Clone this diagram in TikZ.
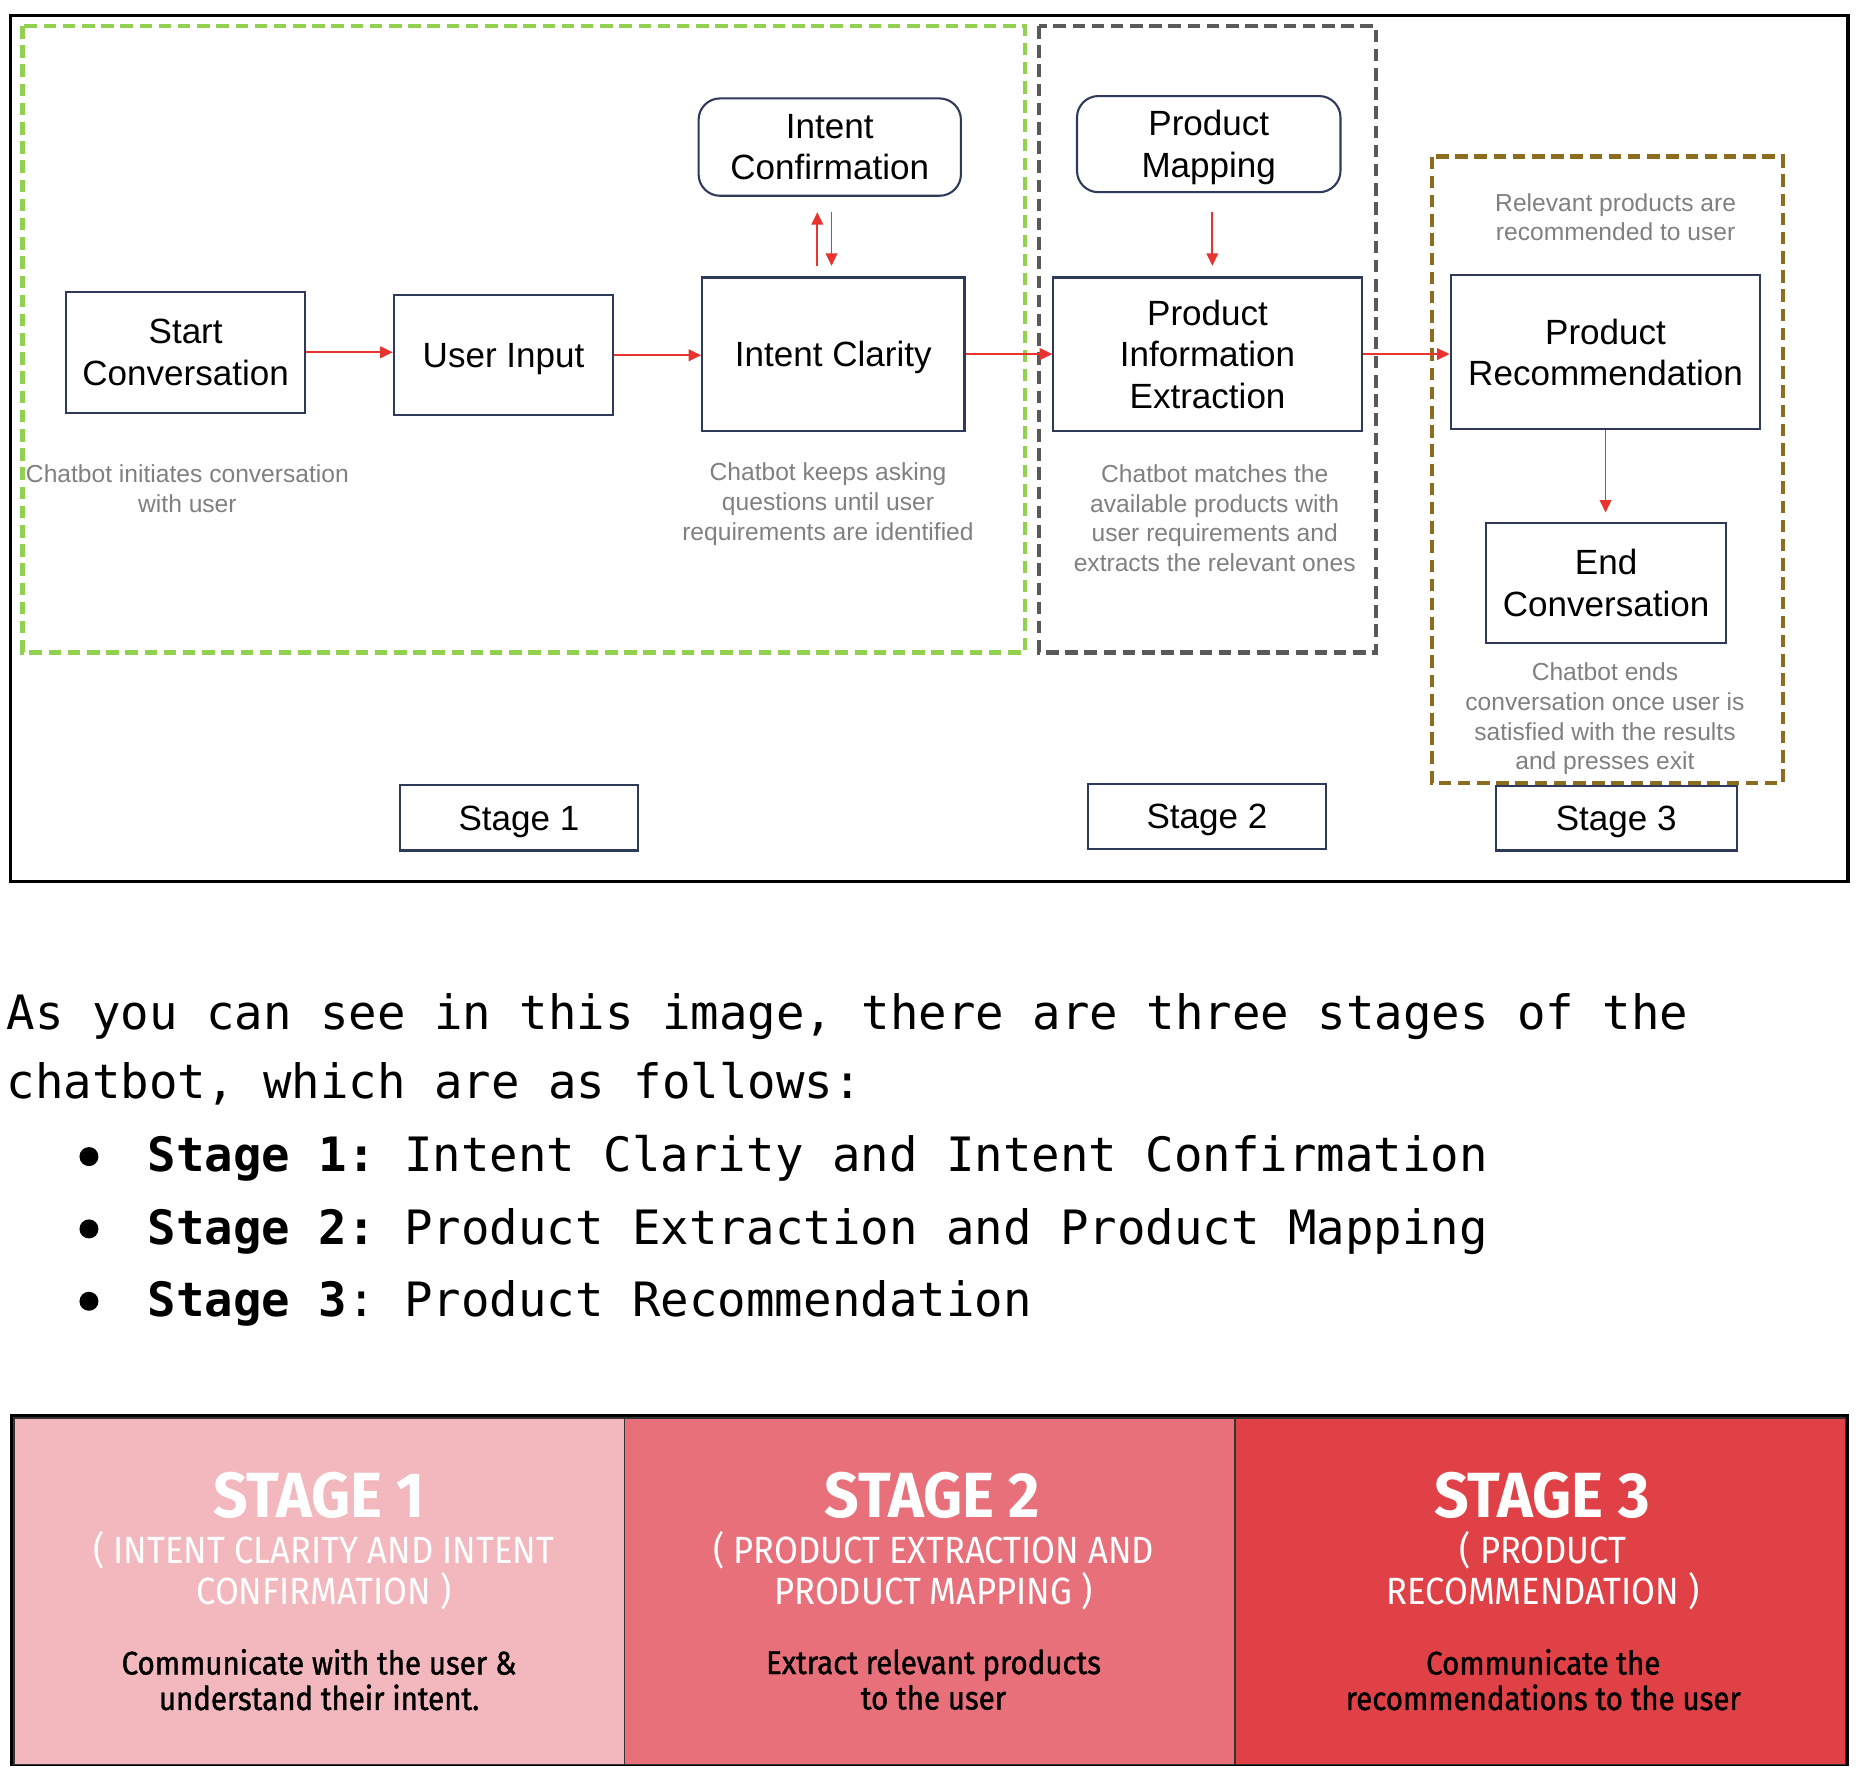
\documentclass[tikz,border=0pt]{standalone}
\usepackage{fontspec}
\setmainfont{Liberation Sans}
\newfontfamily\monofont{DejaVu Sans Mono}
\newfontfamily\stagetitlefont[FakeStretch=0.95]{Fira Sans}
\newfontfamily\stagesubfont[FakeStretch=0.91]{Fira Sans}
\newfontfamily\stagetextfont[FakeStretch=0.9,FakeBold=1.2]{Fira Sans}
\usetikzlibrary{arrows.meta}
\definecolor{boxline}{HTML}{2F3A5A}
\definecolor{flowred}{HTML}{E8332E}
\definecolor{notegray}{HTML}{808080}
\definecolor{stageonegreen}{HTML}{92D050}
\definecolor{stagetwogray}{HTML}{595959}
\definecolor{stagethreeolive}{HTML}{8C6D1F}
\definecolor{cellone}{HTML}{F2B8BE}
\definecolor{celltwo}{HTML}{E8707A}
\definecolor{cellthree}{HTML}{E04146}
\tikzset{
  flowbox/.style={draw=boxline, line width=0.5pt, align=center, inner sep=0pt, text depth=0pt,
    font=\fontsize{8.4}{10}\selectfont},
  roundbox/.style={flowbox, rounded corners=0.18cm},
  note/.style={align=center, inner sep=0pt, text=notegray, font=\fontsize{5.9}{7.1}\selectfont},
  flow/.style={draw=flowred, line width=0.4pt, -{Triangle[length=3pt,width=2.8pt]}},
  region/.style={line width=1pt, dash pattern=on 3pt off 1.6pt},
  bodyline/.style={anchor=base west, inner sep=0pt, font=\monofont\fontsize{11.35}{13}\selectfont\frenchspacing},
  dot/.style={circle, fill=black, inner sep=0pt, minimum size=0.16cm},
  stagecell/.style={draw=black!80, line width=0.4pt, inner sep=0pt, minimum height=2.92cm, minimum width=5.145cm},
  stagetitle/.style={inner sep=0pt, text=white, font=\stagetitlefont\bfseries\fontsize{15.3}{18}\selectfont},
  stagesub/.style={inner sep=0pt, text=white, align=center, font=\stagesubfont\fontsize{9.1}{9.67}\selectfont},
  stagetext/.style={inner sep=0pt, align=center, font=\stagetextfont\fontsize{7.85}{8.5}\selectfont},
}
\begin{document}
\begin{tikzpicture}[x=0.01cm, y=-0.01cm]
  \useasboundingbox (0,0) rectangle (1568,1500.6);
  \draw[line width=0.8pt] (9,13) rectangle (1558,743);
  \draw[region, draw=stageonegreen] (19,22) rectangle (864,550);
  \draw[region, draw=stagetwogray] (876,22) rectangle (1160,550);
  \draw[region, draw=stagethreeolive] (1207,132) rectangle (1503,660);

  \node[flowbox, minimum width=2.01cm, minimum height=1.02cm] (start) at (156.5,297) {Start\\Conversation};
  \node[flowbox, minimum width=1.85cm, minimum height=1.01cm] (input) at (424.5,299.5) {User Input};
  \node[flowbox, minimum width=2.21cm, minimum height=1.29cm] (clarity) at (702.5,298.5) {Intent Clarity};
  \node[roundbox, minimum width=2.21cm, minimum height=0.82cm] (confirm) at (699.5,124) {Intent\\Confirmation};
  \node[roundbox, minimum width=2.22cm, minimum height=0.81cm] (mapping) at (1019,121.5) {Product\\Mapping};
  \node[flowbox, minimum width=2.60cm, minimum height=1.29cm] (extract) at (1018,298.5) {Product\\Information\\Extraction};
  \node[flowbox, minimum width=2.61cm, minimum height=1.30cm] (recommend) at (1353.5,297) {Product\\Recommendation};
  \node[flowbox, minimum width=2.02cm, minimum height=1.01cm] (finish) at (1354,491.5) {End\\Conversation};
  \node[flowbox, minimum width=2.01cm, minimum height=0.55cm] (stageone) at (437.5,689.5) {Stage 1};
  \node[flowbox, minimum width=2.01cm, minimum height=0.55cm] (stagetwo) at (1017.5,688.5) {Stage 2};
  \node[flowbox, minimum width=2.03cm, minimum height=0.54cm] (stagethree) at (1362.5,690) {Stage 3};

  \node[note] (startnote) at (158,412) {Chatbot initiates conversation\\with user};
  \node[note] (claritynote) at (698,425) {Chatbot keeps asking\\questions until user\\requirements are identified};
  \node[note] (extractnote) at (1024,437) {Chatbot matches the\\available products with\\user requirements and\\extracts the relevant ones};
  \node[note] (recommendnote) at (1362,183) {Relevant products are\\recommended to user};
  \node[note] (finishnote) at (1353,606) {Chatbot ends\\conversation once user is\\satisfied with the results\\and presses exit};

  \draw[flow] (start.east) -- (start.east -| input.west);
  \draw[flow] (input.east) -- (input.east -| clarity.west);
  \draw[flow] (clarity.east) -- (clarity.east -| extract.west);
  \draw[flow] (extract.east) -- (extract.east -| recommend.west);
  \draw[flow, shorten <=0.09cm, shorten >=0.13cm] ([xshift=-0.135cm]clarity.north) -- ([xshift=-0.135cm]clarity.north |- confirm.south);
  \draw[flow, shorten <=0.13cm, shorten >=0.09cm] ([xshift=-0.015cm]clarity.north |- confirm.south) -- ([xshift=-0.015cm]clarity.north);
  \draw[flow, shorten <=0.16cm, shorten >=0.09cm] ([xshift=0.03cm]mapping.south) -- ([xshift=0.03cm]mapping.south |- extract.north);
  \draw[flow, shorten >=0.08cm] (recommend.south) -- (recommend.south |- finish.north);

  \node[bodyline] (lineone) at (5,868) {As you can see in this image, there are three stages of the};
  \node[bodyline] (linetwo) at (5,926) {chatbot, which are as follows:};
  \node[dot] (dotone) at (75,975) {};
  \node[dot] (dottwo) at (75,1036) {};
  \node[dot] (dotthree) at (75,1097) {};
  \node[bodyline] (itemone) at (124,988) {\bfseries Stage 1:\mdseries{} Intent Clarity and Intent Confirmation};
  \node[bodyline] (itemtwo) at (124,1049) {\bfseries Stage 2:\mdseries{} Product Extraction and Product Mapping};
  \node[bodyline] (itemthree) at (124,1110) {\bfseries Stage 3\mdseries: Product Recommendation};

  \draw[line width=0.8pt] (9.5,1193.5) rectangle (1557.5,1487);
  \draw[line width=0.3pt, draw=black!45] (11.5,1196) rectangle (1555.5,1485);
  \node[stagecell, fill=cellone] (cellone) at (269,1341.5) {};
  \node[stagecell, fill=celltwo] (celltwo) at (783.75,1341.5) {};
  \node[stagecell, fill=cellthree] (cellthree) at (1298.5,1341.5) {};

  \node[stagetitle] (titleone) at (269,1260.5) {STAGE 1};
  \node[stagetitle] (titletwo) at (786,1260.5) {STAGE 2};
  \node[stagetitle] (titlethree) at (1300,1260.5) {STAGE 3};
  \node[stagesub] (subone) at (273,1324) {( INTENT CLARITY AND INTENT\\CONFIRMATION )};
  \node[stagesub] (subtwo) at (787,1324) {( PRODUCT EXTRACTION AND\\PRODUCT MAPPING )};
  \node[stagesub] (subthree) at (1301,1324) {( PRODUCT\\RECOMMENDATION )};
  \node[stagetext] (textone) at (269,1416) {Communicate with the user \&\\understand their intent.};
  \node[stagetext] (texttwo) at (787,1416) {Extract relevant products\\to the user};
  \node[stagetext] (textthree) at (1301,1416) {Communicate the\\recommendations to the user};
\end{tikzpicture}
\end{document}
